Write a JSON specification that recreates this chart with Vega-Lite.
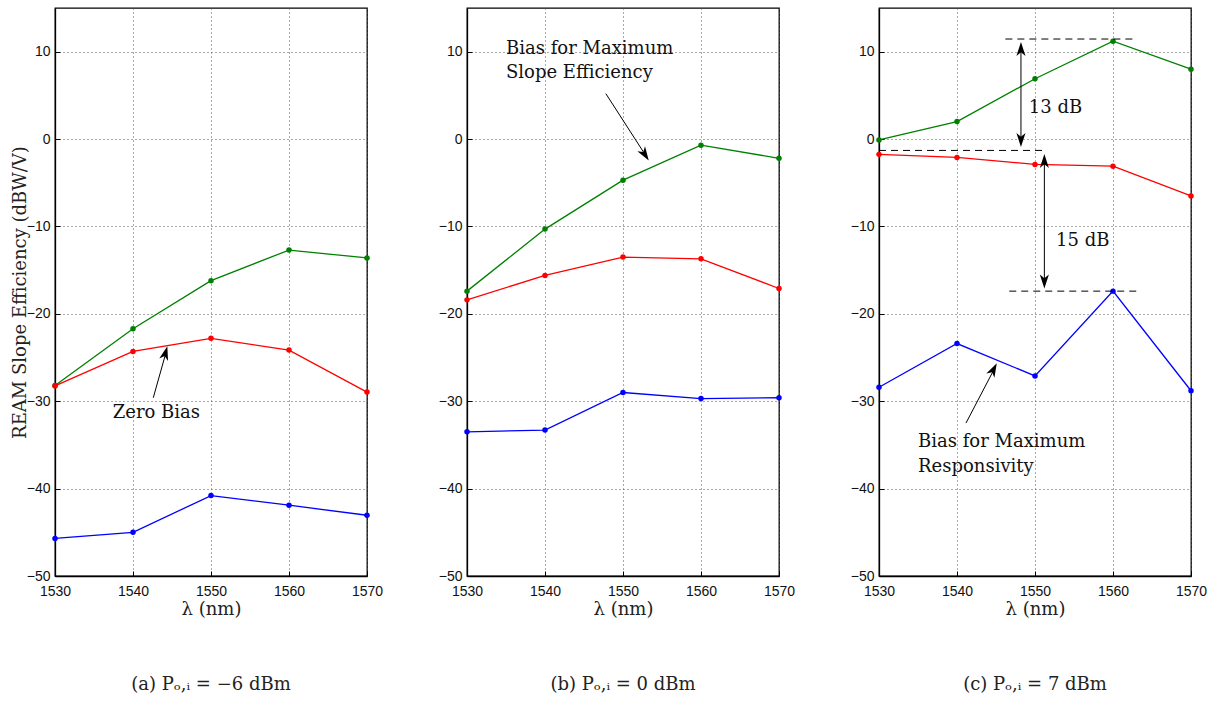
{
  "$schema": "https://vega.github.io/schema/vega-lite/v6.json",
  "background": "white",
  "padding": {"left": 10, "top": 7, "right": 5, "bottom": 5},
  "bounds": "flush",
  "spacing": 100,
  "datasets": {
    "pts": [
      {"p": "a", "s": "slope", "wl": 1530, "v": -28.2},
      {"p": "a", "s": "slope", "wl": 1540, "v": -21.7},
      {"p": "a", "s": "slope", "wl": 1550, "v": -16.2},
      {"p": "a", "s": "slope", "wl": 1560, "v": -12.7},
      {"p": "a", "s": "slope", "wl": 1570, "v": -13.6},
      {"p": "a", "s": "zero", "wl": 1530, "v": -28.25},
      {"p": "a", "s": "zero", "wl": 1540, "v": -24.3},
      {"p": "a", "s": "zero", "wl": 1550, "v": -22.8},
      {"p": "a", "s": "zero", "wl": 1560, "v": -24.15},
      {"p": "a", "s": "zero", "wl": 1570, "v": -28.95},
      {"p": "a", "s": "resp", "wl": 1530, "v": -45.7},
      {"p": "a", "s": "resp", "wl": 1540, "v": -45.0},
      {"p": "a", "s": "resp", "wl": 1550, "v": -40.8},
      {"p": "a", "s": "resp", "wl": 1560, "v": -41.9},
      {"p": "a", "s": "resp", "wl": 1570, "v": -43.05},
      {"p": "b", "s": "slope", "wl": 1530, "v": -17.4},
      {"p": "b", "s": "slope", "wl": 1540, "v": -10.3},
      {"p": "b", "s": "slope", "wl": 1550, "v": -4.7},
      {"p": "b", "s": "slope", "wl": 1560, "v": -0.7},
      {"p": "b", "s": "slope", "wl": 1570, "v": -2.2},
      {"p": "b", "s": "zero", "wl": 1530, "v": -18.4},
      {"p": "b", "s": "zero", "wl": 1540, "v": -15.6},
      {"p": "b", "s": "zero", "wl": 1550, "v": -13.5},
      {"p": "b", "s": "zero", "wl": 1560, "v": -13.7},
      {"p": "b", "s": "zero", "wl": 1570, "v": -17.1},
      {"p": "b", "s": "resp", "wl": 1530, "v": -33.5},
      {"p": "b", "s": "resp", "wl": 1540, "v": -33.3},
      {"p": "b", "s": "resp", "wl": 1550, "v": -29.0},
      {"p": "b", "s": "resp", "wl": 1560, "v": -29.7},
      {"p": "b", "s": "resp", "wl": 1570, "v": -29.6},
      {"p": "c", "s": "slope", "wl": 1530, "v": -0.1},
      {"p": "c", "s": "slope", "wl": 1540, "v": 2.0},
      {"p": "c", "s": "slope", "wl": 1550, "v": 6.9},
      {"p": "c", "s": "slope", "wl": 1560, "v": 11.2},
      {"p": "c", "s": "slope", "wl": 1570, "v": 8.0},
      {"p": "c", "s": "zero", "wl": 1530, "v": -1.75},
      {"p": "c", "s": "zero", "wl": 1540, "v": -2.1},
      {"p": "c", "s": "zero", "wl": 1550, "v": -2.9},
      {"p": "c", "s": "zero", "wl": 1560, "v": -3.1},
      {"p": "c", "s": "zero", "wl": 1570, "v": -6.5},
      {"p": "c", "s": "resp", "wl": 1530, "v": -28.4},
      {"p": "c", "s": "resp", "wl": 1540, "v": -23.4},
      {"p": "c", "s": "resp", "wl": 1550, "v": -27.1},
      {"p": "c", "s": "resp", "wl": 1560, "v": -17.4},
      {"p": "c", "s": "resp", "wl": 1570, "v": -28.8}
    ],
    "segs": [
      {"p": "a", "k": "arrow", "wl": 1542.6, "v": -29.6, "wl2": 1544.3, "v2": -24.2},
      {"p": "b", "k": "arrow", "wl": 1547.8, "v": 5.2, "wl2": 1553.0, "v2": -2.0},
      {"p": "c", "k": "arrow", "wl": 1541.15, "v": -32.5, "wl2": 1544.9, "v2": -26.1},
      {"p": "c", "k": "arrow", "wl": 1548.2, "v": 10.6, "wl2": 1548.2, "v2": -0.4},
      {"p": "c", "k": "arrow", "wl": 1551.2, "v": -2.2, "wl2": 1551.2, "v2": -16.6},
      {"p": "c", "k": "dash", "wl": 1546.2, "v": 11.45, "wl2": 1562.8, "v2": 11.45},
      {"p": "c", "k": "dash", "wl": 1530, "v": -1.3, "wl2": 1551.3, "v2": -1.3},
      {"p": "c", "k": "dash", "wl": 1546.7, "v": -17.4, "wl2": 1563.0, "v2": -17.4}
    ],
    "heads": [
      {"p": "a", "d": "tilt", "wl": 1544.4, "v": -23.7},
      {"p": "b", "d": "tilt", "wl": 1553.3, "v": -2.46},
      {"p": "c", "d": "tilt", "wl": 1545.1, "v": -25.65},
      {"p": "c", "d": "up", "wl": 1548.2, "v": 11.1},
      {"p": "c", "d": "down", "wl": 1548.2, "v": -0.9},
      {"p": "c", "d": "up", "wl": 1551.2, "v": -1.7},
      {"p": "c", "d": "down", "wl": 1551.2, "v": -17.1}
    ],
    "notes": [
      {"p": "a", "wl": 1537.4, "v": -31.3, "t": "Zero Bias"},
      {"p": "b", "wl": 1535.0, "v": 10.34, "t": "Bias for Maximum"},
      {"p": "b", "wl": 1535.0, "v": 7.6, "t": "Slope Efficiency"},
      {"p": "c", "wl": 1535.0, "v": -34.7, "t": "Bias for Maximum"},
      {"p": "c", "wl": 1535.0, "v": -37.5, "t": "Responsivity"},
      {"p": "c", "wl": 1549.2, "v": 3.6, "t": "13 dB"},
      {"p": "c", "wl": 1552.7, "v": -11.7, "t": "15 dB"}
    ]
  },
  "hconcat": [
    {
      "width": 312, "height": 568,
      "title": {"text": "(a)  P\u2092,\u1d62 = \u22126 dBm"},
      "encoding": {
        "x": {"field": "wl", "type": "quantitative", "scale": {"domain": [1530, 1570], "nice": false, "zero": false}, "axis": {"values": [1530, 1540, 1550, 1560, 1570], "format": "d", "title": "\u03bb (nm)"}},
        "y": {"field": "v", "type": "quantitative", "scale": {"domain": [-50, 15], "nice": false, "zero": false}, "axis": {"values": [-50, -40, -30, -20, -10, 0, 10], "title": "REAM Slope Efficiency (dBW/V)"}}
      },
      "layer": [
        {"data": {"name": "pts"}, "transform": [{"filter": "datum.p === 'a'"}], "mark": {"type": "line", "strokeWidth": 1.3}, "encoding": {"color": {"field": "s", "type": "nominal", "scale": {"domain": ["slope", "zero", "resp"], "range": ["#008000", "#ff0000", "#0000ff"]}, "legend": null}}},
        {"data": {"name": "pts"}, "transform": [{"filter": "datum.p === 'a'"}], "mark": {"type": "point", "filled": true, "size": 30, "opacity": 1}, "encoding": {"color": {"field": "s", "type": "nominal", "scale": {"domain": ["slope", "zero", "resp"], "range": ["#008000", "#ff0000", "#0000ff"]}, "legend": null}}},
        {"data": {"name": "segs"}, "transform": [{"filter": "datum.p === 'a'"}], "mark": {"type": "rule", "color": "black", "strokeWidth": 1}, "encoding": {"x2": {"field": "wl2"}, "y2": {"field": "v2"}}},
        {"data": {"name": "heads"}, "transform": [{"filter": "datum.p === 'a'"}], "mark": {"type": "point", "shape": "M0,0L0.65,2L0,1.45L-0.65,2Z", "filled": true, "color": "black", "size": 196, "angle": 15.2, "opacity": 1}},
        {"data": {"name": "notes"}, "transform": [{"filter": "datum.p === 'a'"}], "mark": {"type": "text", "align": "left", "baseline": "middle", "font": "DejaVu Serif", "fontSize": 18, "color": "#111"}, "encoding": {"text": {"field": "t"}}}
      ]
    },
    {
      "width": 312, "height": 568,
      "title": {"text": "(b)  P\u2092,\u1d62 = 0 dBm"},
      "encoding": {
        "x": {"field": "wl", "type": "quantitative", "scale": {"domain": [1530, 1570], "nice": false, "zero": false}, "axis": {"values": [1530, 1540, 1550, 1560, 1570], "format": "d", "title": "\u03bb (nm)"}},
        "y": {"field": "v", "type": "quantitative", "scale": {"domain": [-50, 15], "nice": false, "zero": false}, "axis": {"values": [-50, -40, -30, -20, -10, 0, 10], "title": null}}
      },
      "layer": [
        {"data": {"name": "pts"}, "transform": [{"filter": "datum.p === 'b'"}], "mark": {"type": "line", "strokeWidth": 1.3}, "encoding": {"color": {"field": "s", "type": "nominal", "scale": {"domain": ["slope", "zero", "resp"], "range": ["#008000", "#ff0000", "#0000ff"]}, "legend": null}}},
        {"data": {"name": "pts"}, "transform": [{"filter": "datum.p === 'b'"}], "mark": {"type": "point", "filled": true, "size": 30, "opacity": 1}, "encoding": {"color": {"field": "s", "type": "nominal", "scale": {"domain": ["slope", "zero", "resp"], "range": ["#008000", "#ff0000", "#0000ff"]}, "legend": null}}},
        {"data": {"name": "segs"}, "transform": [{"filter": "datum.p === 'b'"}], "mark": {"type": "rule", "color": "black", "strokeWidth": 1}, "encoding": {"x2": {"field": "wl2"}, "y2": {"field": "v2"}}},
        {"data": {"name": "heads"}, "transform": [{"filter": "datum.p === 'b'"}], "mark": {"type": "point", "shape": "M0,0L0.65,2L0,1.45L-0.65,2Z", "filled": true, "color": "black", "size": 196, "angle": 147.4, "opacity": 1}},
        {"data": {"name": "notes"}, "transform": [{"filter": "datum.p === 'b'"}], "mark": {"type": "text", "align": "left", "baseline": "middle", "font": "DejaVu Serif", "fontSize": 18, "color": "#111"}, "encoding": {"text": {"field": "t"}}}
      ]
    },
    {
      "width": 312, "height": 568,
      "title": {"text": "(c)  P\u2092,\u1d62 = 7 dBm"},
      "encoding": {
        "x": {"field": "wl", "type": "quantitative", "scale": {"domain": [1530, 1570], "nice": false, "zero": false}, "axis": {"values": [1530, 1540, 1550, 1560, 1570], "format": "d", "title": "\u03bb (nm)"}},
        "y": {"field": "v", "type": "quantitative", "scale": {"domain": [-50, 15], "nice": false, "zero": false}, "axis": {"values": [-50, -40, -30, -20, -10, 0, 10], "title": null}}
      },
      "layer": [
        {"data": {"name": "pts"}, "transform": [{"filter": "datum.p === 'c'"}], "mark": {"type": "line", "strokeWidth": 1.3}, "encoding": {"color": {"field": "s", "type": "nominal", "scale": {"domain": ["slope", "zero", "resp"], "range": ["#008000", "#ff0000", "#0000ff"]}, "legend": null}}},
        {"data": {"name": "pts"}, "transform": [{"filter": "datum.p === 'c'"}], "mark": {"type": "point", "filled": true, "size": 30, "opacity": 1}, "encoding": {"color": {"field": "s", "type": "nominal", "scale": {"domain": ["slope", "zero", "resp"], "range": ["#008000", "#ff0000", "#0000ff"]}, "legend": null}}},
        {"data": {"name": "segs"}, "transform": [{"filter": "datum.p === 'c' && datum.k === 'arrow'"}], "mark": {"type": "rule", "color": "black", "strokeWidth": 1}, "encoding": {"x2": {"field": "wl2"}, "y2": {"field": "v2"}}},
        {"data": {"name": "segs"}, "transform": [{"filter": "datum.p === 'c' && datum.k === 'dash'"}], "mark": {"type": "rule", "color": "black", "strokeWidth": 1, "strokeDash": [7, 5]}, "encoding": {"x2": {"field": "wl2"}, "y2": {"field": "v2"}}},
        {"data": {"name": "heads"}, "transform": [{"filter": "datum.p === 'c' && datum.d === 'tilt'"}], "mark": {"type": "point", "shape": "M0,0L0.65,2L0,1.45L-0.65,2Z", "filled": true, "color": "black", "size": 196, "angle": 27.2, "opacity": 1}},
        {"data": {"name": "heads"}, "transform": [{"filter": "datum.p === 'c' && datum.d === 'up'"}], "mark": {"type": "point", "shape": "M0,0L0.65,2L0,1.45L-0.65,2Z", "filled": true, "color": "black", "size": 196, "angle": 0, "opacity": 1}},
        {"data": {"name": "heads"}, "transform": [{"filter": "datum.p === 'c' && datum.d === 'down'"}], "mark": {"type": "point", "shape": "M0,0L0.65,2L0,1.45L-0.65,2Z", "filled": true, "color": "black", "size": 196, "angle": 180, "opacity": 1}},
        {"data": {"name": "notes"}, "transform": [{"filter": "datum.p === 'c'"}], "mark": {"type": "text", "align": "left", "baseline": "middle", "font": "DejaVu Serif", "fontSize": 18, "color": "#111"}, "encoding": {"text": {"field": "t"}}}
      ]
    }
  ],
  "config": {
    "view": {"stroke": "black", "strokeWidth": 1.3},
    "axis": {
      "grid": true, "gridDash": [1, 3], "gridColor": "#555", "gridWidth": 1, "gridOpacity": 1,
      "domain": true, "domainColor": "black", "domainWidth": 1.3,
      "ticks": true, "tickColor": "black", "tickSize": -5, "tickWidth": 1,
      "labelFont": "Liberation Sans", "labelFontSize": 14, "labelColor": "#111", "labelPadding": 10, "labelFlush": false,
      "titleFont": "DejaVu Serif", "titleFontSize": 18, "titleFontWeight": "normal", "titleColor": "#222"
    },
    "axisY": {"titlePadding": -3},
    "axisX": {"titlePadding": 2, "labelPadding": 13},
    "title": {"orient": "bottom", "offset": 58, "font": "DejaVu Serif", "fontSize": 18, "fontWeight": "normal", "color": "#222", "anchor": "middle"}
  }
}
